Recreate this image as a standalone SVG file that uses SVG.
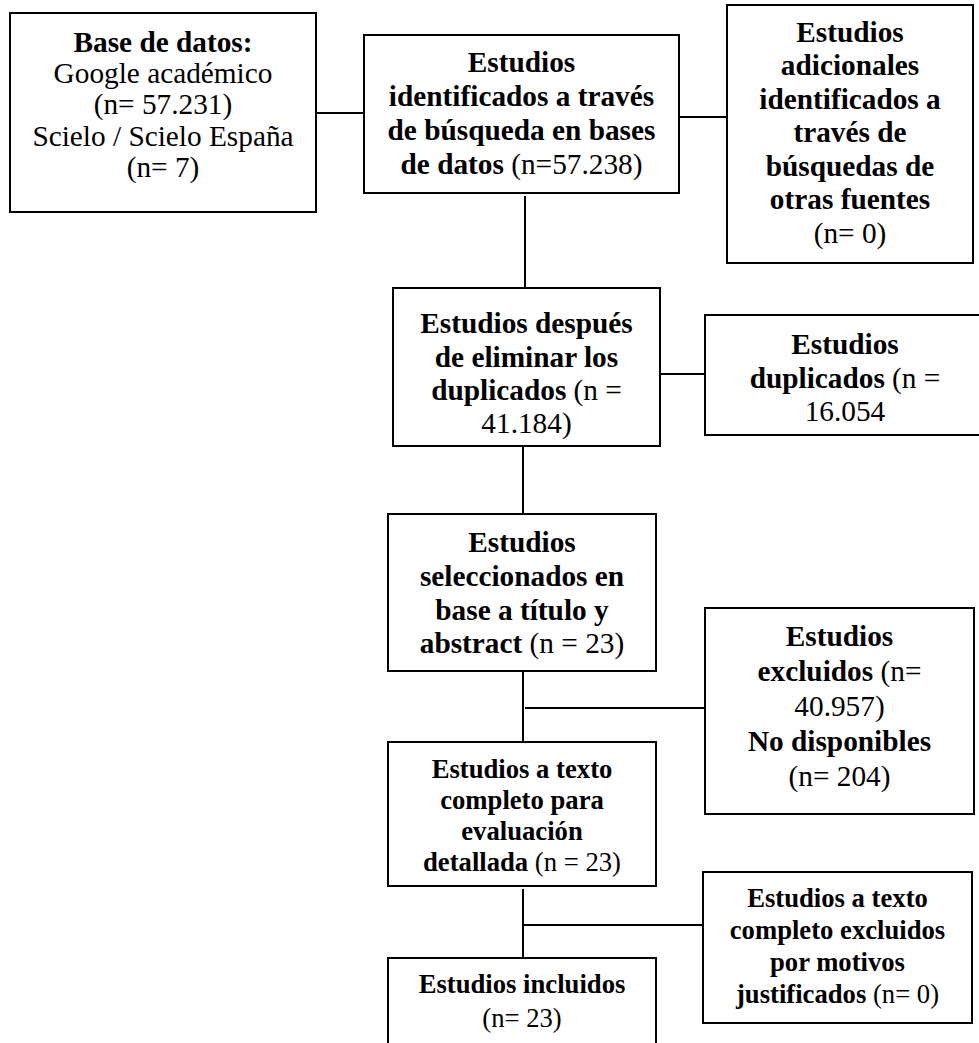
<svg xmlns="http://www.w3.org/2000/svg" width="979" height="1043" viewBox="0 0 979 1043">
<style>
rect.box{fill:#fff;stroke:#000;stroke-width:2}
.conn line{stroke:#000;stroke-width:2}
text{font-family:"Liberation Serif","Times New Roman",serif;fill:#000;text-anchor:middle}
.l{font-size:29.3px}
.s{font-size:26.67px}
.b{font-weight:bold}
</style>
<rect width="979" height="1043" fill="#fff"/>
<g id="connectors" class="conn">
<line x1="317" y1="113" x2="364" y2="113"/>
<line x1="679" y1="117" x2="727" y2="117"/>
<line x1="525" y1="196" x2="525" y2="288"/>
<line x1="660" y1="374" x2="705" y2="374"/>
<line x1="523" y1="446" x2="523" y2="514"/>
<line x1="523" y1="671" x2="523" y2="742"/>
<line x1="525" y1="708" x2="705" y2="708"/>
<line x1="523" y1="889" x2="523" y2="958"/>
<line x1="523" y1="925" x2="703" y2="925"/>
</g>
<g id="n1">
<rect class="box" x="10" y="13" width="306" height="199"/>
<text class="l b" x="163" y="51.7">Base de datos:</text>
<text class="l" x="163" y="82.7">Google académico</text>
<text class="l" x="163" y="114">(n= 57.231)</text>
<text class="l" x="163" y="145.5">Scielo / Scielo España</text>
<text class="l" x="163" y="176.7">(n= 7)</text>
</g>
<g id="n2">
<rect class="box" x="364" y="35" width="315" height="158"/>
<text class="l b" x="521.5" y="72">Estudios</text>
<text class="l b" x="521.5" y="106">identificados a través</text>
<text class="l b" x="521.5" y="140">de búsqueda en bases</text>
<text class="l" x="521.5" y="174"><tspan class="b">de datos</tspan> (n=57.238)</text>
</g>
<g id="n3">
<rect class="box" x="727" y="5" width="246" height="258"/>
<text class="l b" x="850" y="41.7">Estudios</text>
<text class="l b" x="850" y="75">adicionales</text>
<text class="l b" x="850" y="108.5">identificados a</text>
<text class="l b" x="850" y="142">través de</text>
<text class="l b" x="850" y="175.5">búsquedas de</text>
<text class="l b" x="850" y="209">otras fuentes</text>
<text class="l" x="850" y="242.5">(n= 0)</text>
</g>
<g id="n4">
<rect class="box" x="393" y="288" width="267" height="158"/>
<text class="l b" x="526.5" y="333">Estudios después</text>
<text class="l b" x="526.5" y="366.5">de eliminar los</text>
<text class="l" x="526.5" y="400"><tspan class="b">duplicados</tspan> (n =</text>
<text class="l" x="526.5" y="433">41.184)</text>
</g>
<g id="n5">
<rect class="box" x="705" y="315" width="285" height="120"/>
<text class="l b" x="845" y="354">Estudios</text>
<text class="l" x="845" y="387.5"><tspan class="b">duplicados</tspan> (n =</text>
<text class="l" x="845" y="421">16.054</text>
</g>
<g id="n6">
<rect class="box" x="388" y="514" width="268" height="157"/>
<text class="l b" x="522" y="552">Estudios</text>
<text class="l b" x="522" y="586">seleccionados en</text>
<text class="l b" x="522" y="619.5">base a título y</text>
<text class="l" x="522" y="653"><tspan class="b">abstract</tspan> (n = 23)</text>
</g>
<g id="n7">
<rect class="box" x="705" y="608" width="269" height="206"/>
<text class="l b" x="839.5" y="646">Estudios</text>
<text class="l" x="839.5" y="680.5"><tspan class="b">excluidos</tspan> (n=</text>
<text class="l" x="839.5" y="715.5">40.957)</text>
<text class="l b" x="839.5" y="751">No disponibles</text>
<text class="l" x="839.5" y="786">(n= 204)</text>
</g>
<g id="n8">
<rect class="box" x="388" y="742" width="268" height="144"/>
<text class="s b" x="522" y="778">Estudios a texto</text>
<text class="s b" x="522" y="809">completo para</text>
<text class="s b" x="522" y="840">evaluación</text>
<text class="s" x="522" y="871"><tspan class="b">detallada</tspan> (n = 23)</text>
</g>
<g id="n9">
<rect class="box" x="703" y="872" width="269" height="151"/>
<text class="s b" x="837.5" y="907">Estudios a texto</text>
<text class="s b" x="837.5" y="939">completo excluidos</text>
<text class="s b" x="837.5" y="971">por motivos</text>
<text class="s" x="837.5" y="1003"><tspan class="b">justificados</tspan> (n= 0)</text>
</g>
<g id="n10">
<rect class="box" x="388" y="958" width="268" height="100"/>
<text class="s b" x="522" y="993">Estudios incluidos</text>
<text class="s" x="522" y="1027">(n= 23)</text>
</g>
</svg>
